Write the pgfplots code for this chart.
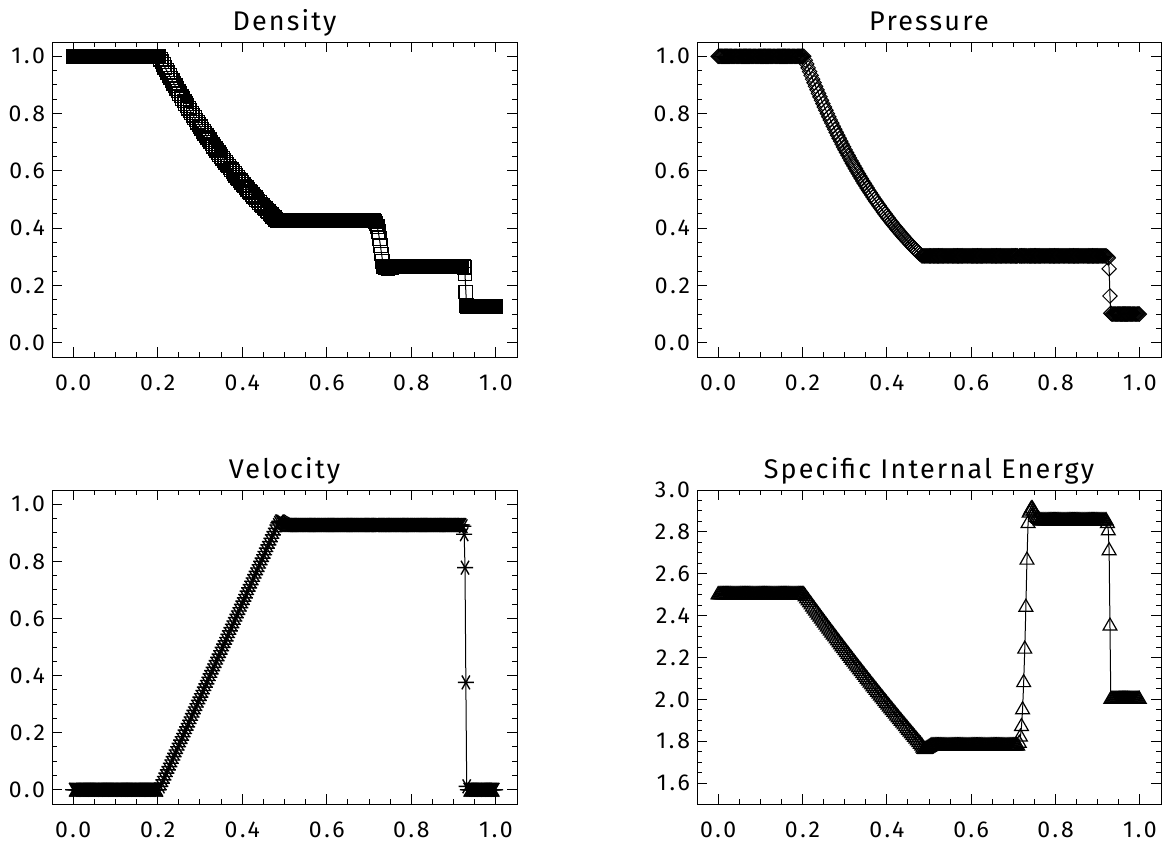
\documentclass[border=0pt]{standalone}
\usepackage{fontspec}
\setmainfont{Fira Sans}
\newfontfamily\tickfont{Fira Sans}[LetterSpace=12]
\newfontfamily\titlefont{Fira Sans}[LetterSpace=8]
\usepackage{pgfplots}
\usepackage{pgfplotstable}
\pgfplotsset{compat=1.18}

\pgfplotstableread{
x rho p u e
0.0000 1 1 0 2.5
0.0025 1 1 0 2.5
0.0050 1 1 0 2.5
0.0075 1 1 0 2.5
0.0100 1 1 0 2.5
0.0125 1 1 0 2.5
0.0150 1 1 0 2.5
0.0175 1 1 0 2.5
0.0200 1 1 0 2.5
0.0225 1 1 0 2.5
0.0250 1 1 0 2.5
0.0275 1 1 0 2.5
0.0300 1 1 0 2.5
0.0325 1 1 0 2.5
0.0350 1 1 0 2.5
0.0375 1 1 0 2.5
0.0400 1 1 0 2.5
0.0425 1 1 0 2.5
0.0450 1 1 0 2.5
0.0475 1 1 0 2.5
0.0500 1 1 0 2.5
0.0525 1 1 0 2.5
0.0550 1 1 0 2.5
0.0575 1 1 0 2.5
0.0600 1 1 0 2.5
0.0625 1 1 0 2.5
0.0650 1 1 0 2.5
0.0675 1 1 0 2.5
0.0700 1 1 0 2.5
0.0725 1 1 0 2.5
0.0750 1 1 0 2.5
0.0775 1 1 0 2.5
0.0800 1 1 0 2.5
0.0825 1 1 0 2.5
0.0850 1 1 0 2.5
0.0875 1 1 0 2.5
0.0900 1 1 0 2.5
0.0925 1 1 0 2.5
0.0950 1 1 0 2.5
0.0975 1 1 0 2.5
0.1000 1 1 0 2.5
0.1025 1 1 0 2.5
0.1050 1 1 0 2.5
0.1075 1 1 0 2.5
0.1100 1 1 0 2.5
0.1125 1 1 0 2.5
0.1150 1 1 0 2.5
0.1175 1 1 0 2.5
0.1200 1 1 0 2.5
0.1225 1 1 0 2.5
0.1250 1 1 0 2.5
0.1275 1 1 0 2.5
0.1300 1 1 0 2.5
0.1325 1 1 0 2.5
0.1350 1 1 0 2.5
0.1375 1 1 0 2.5
0.1400 1 1 0 2.5
0.1425 1 1 0 2.5
0.1450 1 1 0 2.5
0.1475 1 1 0 2.5
0.1500 1 1 0 2.5
0.1525 1 1 0 2.5
0.1550 1 1 0 2.5
0.1575 1 1 0 2.5
0.1600 1 1 0 2.5
0.1625 1 1 0 2.5
0.1650 1 1 0 2.5
0.1675 1 1 0 2.5
0.1700 1 1 0 2.5
0.1725 1 1 0 2.5
0.1750 1 1 0 2.5
0.1775 1 1 0 2.5
0.1800 1 1 0 2.5
0.1825 1 1 0 2.5
0.1850 1 1 0 2.5
0.1875 1 1 0 2.5
0.1900 1 1 0 2.5
0.1925 1 1 0 2.5
0.1950 1 1 0 2.5
0.1975 1 1 0 2.5
0.2000 1 1 0 2.5
0.2030 1.0000 1.0000 0.0000 2.5000
0.2065 0.9903 0.9865 0.0116 2.4902
0.2100 0.9806 0.9729 0.0232 2.4804
0.2135 0.9710 0.9597 0.0348 2.4707
0.2170 0.9614 0.9464 0.0464 2.4610
0.2205 0.9520 0.9335 0.0580 2.4513
0.2240 0.9426 0.9205 0.0696 2.4415
0.2275 0.9333 0.9079 0.0811 2.4319
0.2310 0.9240 0.8953 0.0927 2.4222
0.2345 0.9149 0.8830 0.1043 2.4126
0.2380 0.9058 0.8706 0.1159 2.4030
0.2415 0.8968 0.8586 0.1275 2.3934
0.2450 0.8878 0.8465 0.1391 2.3838
0.2485 0.8790 0.8348 0.1507 2.3743
0.2520 0.8701 0.8230 0.1623 2.3647
0.2555 0.8614 0.8116 0.1739 2.3552
0.2590 0.8527 0.8001 0.1855 2.3457
0.2625 0.8442 0.7889 0.1971 2.3362
0.2660 0.8356 0.7777 0.2087 2.3267
0.2695 0.8272 0.7668 0.2203 2.3173
0.2730 0.8188 0.7558 0.2319 2.3078
0.2765 0.8105 0.7452 0.2434 2.2984
0.2800 0.8022 0.7345 0.2550 2.2890
0.2835 0.7941 0.7241 0.2666 2.2797
0.2870 0.7859 0.7137 0.2782 2.2703
0.2905 0.7779 0.7036 0.2898 2.2610
0.2940 0.7699 0.6934 0.3014 2.2517
0.2975 0.7620 0.6835 0.3130 2.2424
0.3010 0.7541 0.6736 0.3246 2.2331
0.3045 0.7464 0.6640 0.3362 2.2239
0.3080 0.7386 0.6543 0.3478 2.2146
0.3115 0.7310 0.6449 0.3594 2.2054
0.3150 0.7233 0.6355 0.3710 2.1962
0.3185 0.7158 0.6263 0.3826 2.1871
0.3220 0.7083 0.6171 0.3941 2.1779
0.3255 0.7010 0.6082 0.4057 2.1688
0.3290 0.6936 0.5992 0.4173 2.1596
0.3325 0.6864 0.5905 0.4289 2.1506
0.3360 0.6791 0.5817 0.4405 2.1415
0.3395 0.6720 0.5732 0.4521 2.1325
0.3430 0.6648 0.5647 0.4637 2.1234
0.3465 0.6578 0.5564 0.4753 2.1144
0.3500 0.6508 0.5481 0.4869 2.1053
0.3535 0.6439 0.5400 0.4985 2.0964
0.3570 0.6370 0.5319 0.5101 2.0874
0.3605 0.6303 0.5240 0.5217 2.0785
0.3640 0.6235 0.5161 0.5333 2.0695
0.3675 0.6169 0.5085 0.5448 2.0606
0.3710 0.6102 0.5008 0.5564 2.0517
0.3745 0.6037 0.4933 0.5680 2.0429
0.3780 0.5971 0.4858 0.5796 2.0340
0.3815 0.5907 0.4785 0.5912 2.0252
0.3850 0.5842 0.4712 0.6028 2.0164
0.3885 0.5779 0.4641 0.6144 2.0076
0.3920 0.5716 0.4570 0.6260 1.9988
0.3955 0.5654 0.4501 0.6376 1.9901
0.3990 0.5592 0.4431 0.6492 1.9813
0.4025 0.5531 0.4364 0.6608 1.9726
0.4060 0.5470 0.4297 0.6724 1.9639
0.4095 0.5410 0.4231 0.6839 1.9553
0.4130 0.5350 0.4165 0.6956 1.9466
0.4165 0.5291 0.4102 0.7071 1.9380
0.4200 0.5232 0.4038 0.7187 1.9293
0.4235 0.5174 0.3976 0.7303 1.9207
0.4270 0.5116 0.3913 0.7419 1.9121
0.4305 0.5060 0.3853 0.7535 1.9036
0.4340 0.5003 0.3792 0.7651 1.8950
0.4375 0.4947 0.3733 0.7767 1.8865
0.4410 0.4891 0.3674 0.7883 1.8780
0.4445 0.4836 0.3617 0.7999 1.8696
0.4480 0.4781 0.3559 0.8115 1.8611
0.4515 0.4728 0.3504 0.8231 1.8527
0.4550 0.4674 0.3448 0.8347 1.8442
0.4585 0.4621 0.3394 0.8462 1.8358
0.4620 0.4568 0.3339 0.8578 1.8274
0.4655 0.4516 0.3286 0.8694 1.8191
0.4690 0.4464 0.3233 0.8810 1.8107
0.4725 0.4413 0.3182 0.8926 1.8024
0.4760 0.4362 0.3131 0.9042 1.7940
0.4795 0.4312 0.3081 0.9158 1.7858
0.4830 0.4262 0.3030 0.9274 1.7775
0.4855 0.4263 0.3031 0.9350 1.7680
0.4880 0.4263 0.3031 0.9400 1.7620
0.4905 0.4263 0.3031 0.9400 1.7600
0.4930 0.4263 0.3031 0.9380 1.7620
0.4955 0.4263 0.3031 0.9350 1.7650
0.4980 0.4263 0.3031 0.9330 1.7680
0.5005 0.4263 0.3031 0.9310 1.7710
0.5030 0.4263 0.3031 0.9290 1.7740
0.5050 0.4263 0.3031 0.9274 1.7775
0.5075 0.4263 0.3031 0.9274 1.7775
0.5100 0.4263 0.3031 0.9274 1.7775
0.5125 0.4263 0.3031 0.9274 1.7775
0.5150 0.4263 0.3031 0.9274 1.7775
0.5175 0.4263 0.3031 0.9274 1.7775
0.5200 0.4263 0.3031 0.9274 1.7775
0.5225 0.4263 0.3031 0.9274 1.7775
0.5250 0.4263 0.3031 0.9274 1.7775
0.5275 0.4263 0.3031 0.9274 1.7775
0.5300 0.4263 0.3031 0.9274 1.7775
0.5325 0.4263 0.3031 0.9274 1.7775
0.5350 0.4263 0.3031 0.9274 1.7775
0.5375 0.4263 0.3031 0.9274 1.7775
0.5400 0.4263 0.3031 0.9274 1.7775
0.5425 0.4263 0.3031 0.9274 1.7775
0.5450 0.4263 0.3031 0.9274 1.7775
0.5475 0.4263 0.3031 0.9274 1.7775
0.5500 0.4263 0.3031 0.9274 1.7775
0.5525 0.4263 0.3031 0.9274 1.7775
0.5550 0.4263 0.3031 0.9274 1.7775
0.5575 0.4263 0.3031 0.9274 1.7775
0.5600 0.4263 0.3031 0.9274 1.7775
0.5625 0.4263 0.3031 0.9274 1.7775
0.5650 0.4263 0.3031 0.9274 1.7775
0.5675 0.4263 0.3031 0.9274 1.7775
0.5700 0.4263 0.3031 0.9274 1.7775
0.5725 0.4263 0.3031 0.9274 1.7775
0.5750 0.4263 0.3031 0.9274 1.7775
0.5775 0.4263 0.3031 0.9274 1.7775
0.5800 0.4263 0.3031 0.9274 1.7775
0.5825 0.4263 0.3031 0.9274 1.7775
0.5850 0.4263 0.3031 0.9274 1.7775
0.5875 0.4263 0.3031 0.9274 1.7775
0.5900 0.4263 0.3031 0.9274 1.7775
0.5925 0.4263 0.3031 0.9274 1.7775
0.5950 0.4263 0.3031 0.9274 1.7775
0.5975 0.4263 0.3031 0.9274 1.7775
0.6000 0.4263 0.3031 0.9274 1.7775
0.6025 0.4263 0.3031 0.9274 1.7775
0.6050 0.4263 0.3031 0.9274 1.7775
0.6075 0.4263 0.3031 0.9274 1.7775
0.6100 0.4263 0.3031 0.9274 1.7775
0.6125 0.4263 0.3031 0.9274 1.7775
0.6150 0.4263 0.3031 0.9274 1.7775
0.6175 0.4263 0.3031 0.9274 1.7775
0.6200 0.4263 0.3031 0.9274 1.7775
0.6225 0.4263 0.3031 0.9274 1.7775
0.6250 0.4263 0.3031 0.9274 1.7775
0.6275 0.4263 0.3031 0.9274 1.7775
0.6300 0.4263 0.3031 0.9274 1.7775
0.6325 0.4263 0.3031 0.9274 1.7775
0.6350 0.4263 0.3031 0.9274 1.7775
0.6375 0.4263 0.3031 0.9274 1.7775
0.6400 0.4263 0.3031 0.9274 1.7775
0.6425 0.4263 0.3031 0.9274 1.7775
0.6450 0.4263 0.3031 0.9274 1.7775
0.6475 0.4263 0.3031 0.9274 1.7775
0.6500 0.4263 0.3031 0.9274 1.7775
0.6525 0.4263 0.3031 0.9274 1.7775
0.6550 0.4263 0.3031 0.9274 1.7775
0.6575 0.4263 0.3031 0.9274 1.7775
0.6600 0.4263 0.3031 0.9274 1.7775
0.6625 0.4263 0.3031 0.9274 1.7775
0.6650 0.4263 0.3031 0.9274 1.7775
0.6675 0.4263 0.3031 0.9274 1.7775
0.6700 0.4263 0.3031 0.9274 1.7775
0.6725 0.4263 0.3031 0.9274 1.7775
0.6750 0.4263 0.3031 0.9274 1.7775
0.6775 0.4263 0.3031 0.9274 1.7775
0.6800 0.4263 0.3031 0.9274 1.7775
0.6825 0.4263 0.3031 0.9274 1.7775
0.6850 0.4263 0.3031 0.9274 1.7775
0.6875 0.4263 0.3031 0.9274 1.7775
0.6900 0.4263 0.3031 0.9274 1.7775
0.6925 0.4263 0.3031 0.9274 1.7775
0.6950 0.4263 0.3031 0.9274 1.7775
0.6975 0.4263 0.3031 0.9274 1.7775
0.7000 0.4263 0.3031 0.9274 1.7775
0.7025 0.4263 0.3031 0.9274 1.7775
0.7050 0.4263 0.3031 0.9274 1.7775
0.7075 0.4263 0.3031 0.9274 1.7775
0.7100 0.4263 0.3031 0.9274 1.7775
0.7140 0.4230 0.3031 0.9274 1.7900
0.7166 0.4160 0.3031 0.9274 1.8200
0.7192 0.4050 0.3031 0.9274 1.8700
0.7218 0.3880 0.3031 0.9274 1.9500
0.7244 0.3640 0.3031 0.9274 2.0800
0.7270 0.3380 0.3031 0.9274 2.2400
0.7296 0.3100 0.3031 0.9274 2.4400
0.7322 0.2840 0.3031 0.9274 2.6650
0.7348 0.2670 0.3031 0.9274 2.8400
0.7375 0.2620 0.3031 0.9274 2.8900
0.7400 0.2613 0.3031 0.9274 2.9000
0.7425 0.2605 0.3031 0.9274 2.9100
0.7450 0.2604 0.3031 0.9274 2.9100
0.7475 0.2613 0.3031 0.9274 2.9000
0.7500 0.2622 0.3031 0.9274 2.8900
0.7525 0.2630 0.3031 0.9274 2.8800
0.7550 0.2640 0.3031 0.9274 2.8700
0.7575 0.2645 0.3031 0.9274 2.8650
0.7600 0.2650 0.3031 0.9274 2.8600
0.7625 0.2656 0.3031 0.9274 2.8530
0.7650 0.2656 0.3031 0.9274 2.8530
0.7675 0.2656 0.3031 0.9274 2.8530
0.7700 0.2656 0.3031 0.9274 2.8530
0.7725 0.2656 0.3031 0.9274 2.8530
0.7750 0.2656 0.3031 0.9274 2.8530
0.7775 0.2656 0.3031 0.9274 2.8530
0.7800 0.2656 0.3031 0.9274 2.8530
0.7825 0.2656 0.3031 0.9274 2.8530
0.7850 0.2656 0.3031 0.9274 2.8530
0.7875 0.2656 0.3031 0.9274 2.8530
0.7900 0.2656 0.3031 0.9274 2.8530
0.7925 0.2656 0.3031 0.9274 2.8530
0.7950 0.2656 0.3031 0.9274 2.8530
0.7975 0.2656 0.3031 0.9274 2.8530
0.8000 0.2656 0.3031 0.9274 2.8530
0.8025 0.2656 0.3031 0.9274 2.8530
0.8050 0.2656 0.3031 0.9274 2.8530
0.8075 0.2656 0.3031 0.9274 2.8530
0.8100 0.2656 0.3031 0.9274 2.8530
0.8125 0.2656 0.3031 0.9274 2.8530
0.8150 0.2656 0.3031 0.9274 2.8530
0.8175 0.2656 0.3031 0.9274 2.8530
0.8200 0.2656 0.3031 0.9274 2.8530
0.8225 0.2656 0.3031 0.9274 2.8530
0.8250 0.2656 0.3031 0.9274 2.8530
0.8275 0.2656 0.3031 0.9274 2.8530
0.8300 0.2656 0.3031 0.9274 2.8530
0.8325 0.2656 0.3031 0.9274 2.8530
0.8350 0.2656 0.3031 0.9274 2.8530
0.8375 0.2656 0.3031 0.9274 2.8530
0.8400 0.2656 0.3031 0.9274 2.8530
0.8425 0.2656 0.3031 0.9274 2.8530
0.8450 0.2656 0.3031 0.9274 2.8530
0.8475 0.2656 0.3031 0.9274 2.8530
0.8500 0.2656 0.3031 0.9274 2.8530
0.8525 0.2656 0.3031 0.9274 2.8530
0.8550 0.2656 0.3031 0.9274 2.8530
0.8575 0.2656 0.3031 0.9274 2.8530
0.8600 0.2656 0.3031 0.9274 2.8530
0.8625 0.2656 0.3031 0.9274 2.8530
0.8650 0.2656 0.3031 0.9274 2.8530
0.8675 0.2656 0.3031 0.9274 2.8530
0.8700 0.2656 0.3031 0.9274 2.8530
0.8725 0.2656 0.3031 0.9274 2.8530
0.8750 0.2656 0.3031 0.9274 2.8530
0.8775 0.2656 0.3031 0.9274 2.8530
0.8800 0.2656 0.3031 0.9274 2.8530
0.8825 0.2656 0.3031 0.9274 2.8530
0.8850 0.2656 0.3031 0.9274 2.8530
0.8875 0.2656 0.3031 0.9274 2.8530
0.8900 0.2656 0.3031 0.9274 2.8530
0.8925 0.2656 0.3031 0.9274 2.8530
0.8950 0.2656 0.3031 0.9274 2.8530
0.8975 0.2656 0.3031 0.9274 2.8530
0.9000 0.2656 0.3031 0.9274 2.8530
0.9025 0.2656 0.3031 0.9274 2.8530
0.9050 0.2656 0.3031 0.9274 2.8530
0.9075 0.2656 0.3031 0.9274 2.8530
0.9100 0.2656 0.3031 0.9274 2.8530
0.9125 0.2656 0.3031 0.9274 2.8530
0.9150 0.2656 0.3031 0.9274 2.8530
0.9175 0.2656 0.3031 0.9274 2.8530
0.9200 0.2656 0.3031 0.9274 2.8530
0.9230 0.2650 0.3000 0.9230 2.8400
0.9250 0.2620 0.2960 0.8950 2.8050
0.9270 0.2400 0.2580 0.7780 2.7100
0.9290 0.1770 0.1630 0.3760 2.3500
0.9310 0.1300 0.1030 0.0120 2.0000
0.9335 0.125 0.1 0 2.0
0.9360 0.125 0.1 0 2.0
0.9385 0.125 0.1 0 2.0
0.9410 0.125 0.1 0 2.0
0.9435 0.125 0.1 0 2.0
0.9460 0.125 0.1 0 2.0
0.9485 0.125 0.1 0 2.0
0.9510 0.125 0.1 0 2.0
0.9535 0.125 0.1 0 2.0
0.9560 0.125 0.1 0 2.0
0.9585 0.125 0.1 0 2.0
0.9610 0.125 0.1 0 2.0
0.9635 0.125 0.1 0 2.0
0.9660 0.125 0.1 0 2.0
0.9685 0.125 0.1 0 2.0
0.9710 0.125 0.1 0 2.0
0.9735 0.125 0.1 0 2.0
0.9760 0.125 0.1 0 2.0
0.9785 0.125 0.1 0 2.0
0.9810 0.125 0.1 0 2.0
0.9835 0.125 0.1 0 2.0
0.9860 0.125 0.1 0 2.0
0.9885 0.125 0.1 0 2.0
0.9910 0.125 0.1 0 2.0
0.9935 0.125 0.1 0 2.0
0.9960 0.125 0.1 0 2.0
0.9985 0.125 0.1 0 2.0
}\sod

\pgfplotsset{
  panel/.style={
    scale only axis,
    height=157.5pt,
    xmin=-0.05, xmax=1.05,
    xtick={0,0.2,0.4,0.6,0.8,1},
    minor x tick num=3, minor y tick num=3,
    tick align=inside,
    major tick length=5pt, minor tick length=2.5pt,
    axis line style={line width=0.5pt},
    tick style={black, line width=0.5pt},
    tick label style={font=\tickfont\fontsize{11.5}{13}\selectfont},
    x tick label style={yshift=-5.5pt, /pgf/number format/.cd, fixed, fixed zerofill, precision=1, assume math mode=true, /tikz/.cd},
    y tick label style={xshift=0pt, /pgf/number format/.cd, fixed, fixed zerofill, precision=1, assume math mode=true, /tikz/.cd},
    title style={font=\titlefont\fontsize{13.5}{16}\selectfont, at={(0.5,1)}, anchor=base, yshift=0pt},
  },
  unitrange/.style={ymin=-0.05, ymax=1.05, ytick={0,0.2,0.4,0.6,0.8,1}},
  series/.style={black, line width=0.5pt, mark options={solid, line width=0.6pt}},
}

\begin{document}
\begin{tikzpicture}
\path[use as bounding box] (0,0) rectangle (582.5pt,421.5pt);

\begin{axis}[panel, unitrange, width=232.5pt, at={(26pt,243pt)}, anchor=south west, title={Density}]
\addplot[series, mark=square, mark size=3.4pt] table[x=x, y=rho]{\sod};
\end{axis}

\begin{axis}[panel, unitrange, width=232pt, at={(348.5pt,243pt)}, anchor=south west, title={Pressure}]
\addplot[series, mark=square, mark size=2.55pt, mark options={rotate=45}] table[x=x, y=p]{\sod};
\end{axis}

\begin{axis}[panel, unitrange, width=232.5pt, height=157pt, at={(26pt,19.5pt)}, anchor=south west, title={Velocity}]
\addplot[series, mark=asterisk, mark size=4pt, mark options={rotate=90, line width=0.7pt}] table[x=x, y=u]{\sod};
\end{axis}

\begin{axis}[panel, width=232pt, height=157pt, at={(348.5pt,19.5pt)}, anchor=south west, title={Specific Internal Energy},
  ymin=1.5, ymax=3.0, ytick={1.6,1.8,2.0,2.2,2.4,2.6,2.8,3.0}]
\addplot[series, mark=triangle, mark size=4pt] table[x=x, y=e]{\sod};
\end{axis}
\end{tikzpicture}
\end{document}
